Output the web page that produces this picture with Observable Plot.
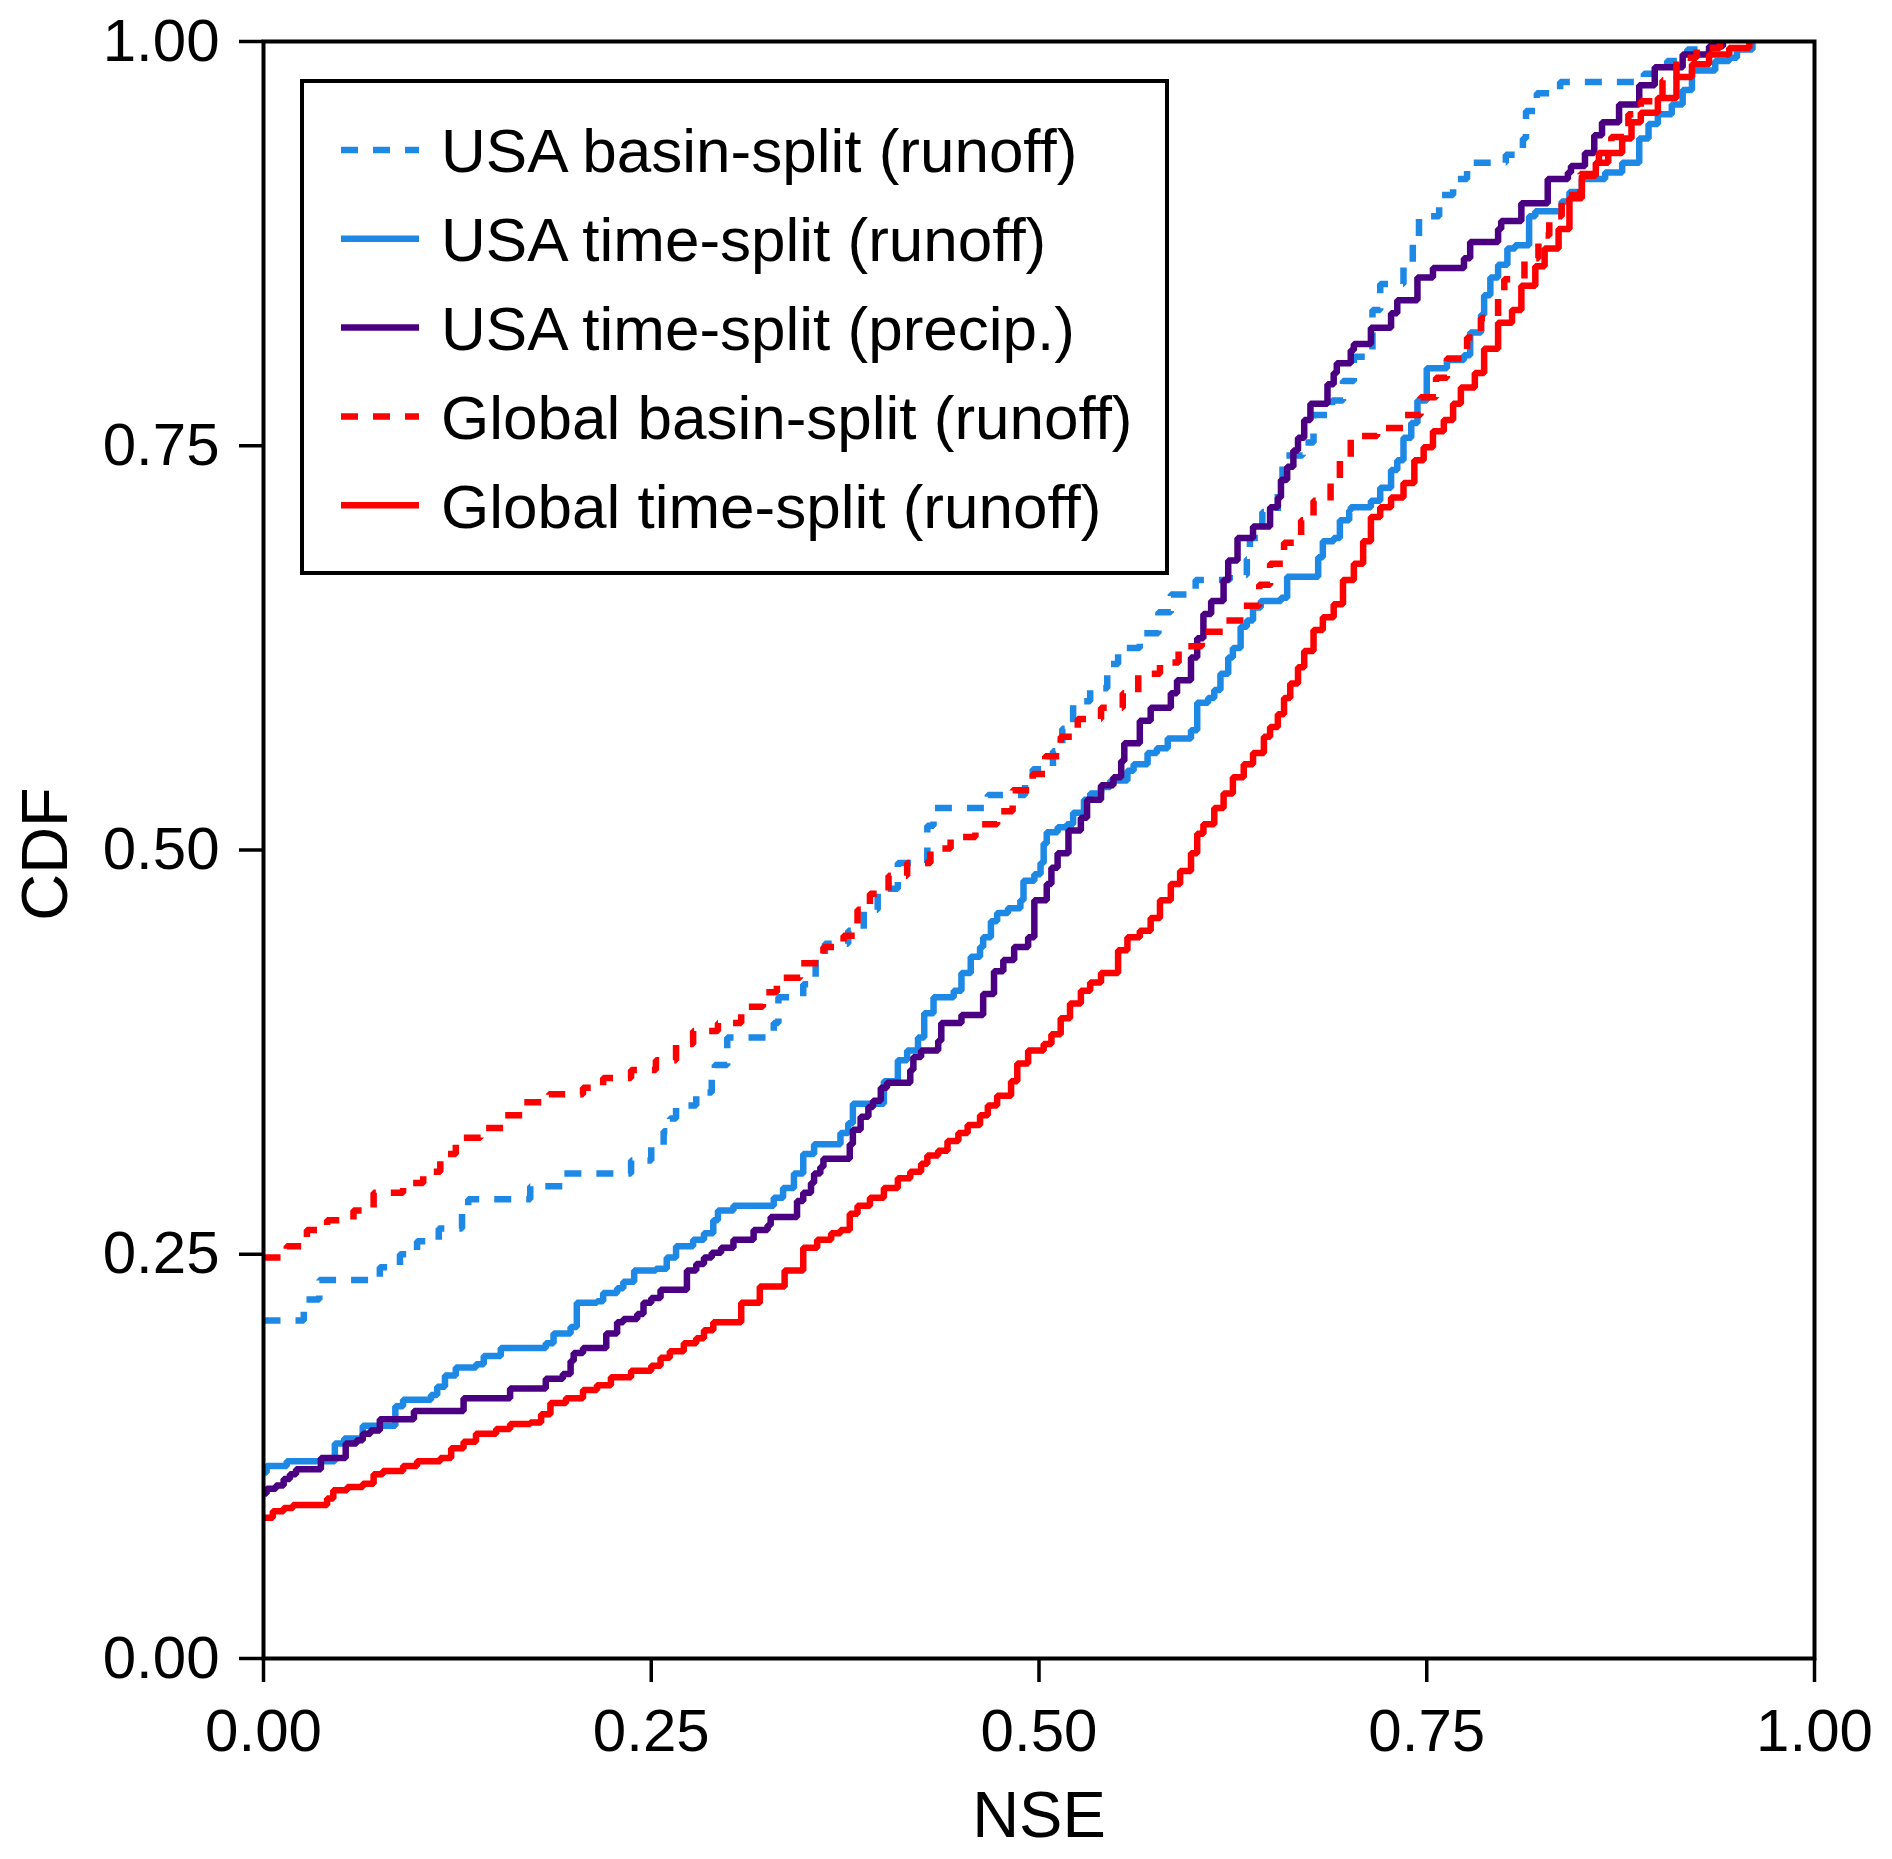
<!DOCTYPE html>
<html>
<head>
<meta charset="utf-8">
<script src="https://cdn.jsdelivr.net/npm/d3@7"></script>
<script src="https://cdn.jsdelivr.net/npm/@observablehq/plot@0.6"></script>
<style>
  html, body { margin: 0; padding: 0; background: #fff; }
  #wrap { position: relative; width: 1892px; height: 1859px; }
  #legend { position: absolute; left: 0; top: 0; pointer-events: none; }
  text { font-family: "Liberation Sans", Arial, Helvetica, sans-serif; }
</style>
</head>
<body>
<div id="wrap"></div>
<script>
// ---- data ----
const seriesNames = [
  "USA basin-split (runoff)",
  "USA time-split (runoff)",
  "USA time-split (precip.)",
  "Global basin-split (runoff)",
  "Global time-split (runoff)"
];
const seriesColors = ["#1E88E5", "#1E88E5", "#4B0082", "#FF0000", "#FF0000"];
const seriesDashed = [true, false, false, true, false];
const xTicks = [0, 0.25, 0.5, 0.75, 1];
const yTicks = [0, 0.25, 0.5, 0.75, 1];

const usaBasinNSE = [0,0.026,0.036,0.075,0.088,0.099,0.113,0.128,0.132,0.172,0.193,0.237,0.250,0.258,0.262,0.266,0.279,0.289,0.291,0.299,0.329,0.332,0.348,0.356,0.362,0.377,0.387,0.396,0.409,0.428,0.432,0.467,0.491,0.496,0.509,0.515,0.522,0.533,0.544,0.551,0.565,0.577,0.585,0.601,0.623,0.634,0.636,0.644,0.654,0.657,0.670,0.677,0.689,0.696,0.703,0.715,0.720,0.735,0.741,0.745,0.758,0.767,0.776,0.801,0.812,0.814,0.821,0.836,0.890,0.905,0.918,0.930];
const usaBasinCDF = [0.209,0.222,0.234,0.242,0.250,0.258,0.266,0.275,0.284,0.292,0.300,0.308,0.317,0.326,0.334,0.342,0.350,0.359,0.367,0.384,0.393,0.409,0.417,0.434,0.442,0.450,0.463,0.476,0.492,0.515,0.526,0.534,0.542,0.550,0.561,0.575,0.592,0.600,0.615,0.625,0.634,0.647,0.658,0.667,0.670,0.680,0.693,0.709,0.725,0.744,0.752,0.769,0.778,0.790,0.805,0.834,0.850,0.863,0.878,0.892,0.905,0.915,0.925,0.930,0.940,0.957,0.968,0.975,0.980,0.988,0.995,1.0];

const usaTimeNSE = [0,0.002,0.015,0.046,0.052,0.064,0.085,0.090,0.108,0.112,0.117,0.124,0.137,0.142,0.153,0.182,0.187,0.198,0.202,0.215,0.219,0.228,0.232,0.239,0.253,0.260,0.266,0.277,0.284,0.290,0.293,0.303,0.329,0.335,0.342,0.348,0.355,0.372,0.377,0.380,0.400,0.409,0.415,0.422,0.426,0.432,0.445,0.450,0.456,0.462,0.464,0.469,0.473,0.480,0.488,0.490,0.497,0.501,0.503,0.505,0.512,0.518,0.522,0.529,0.533,0.540,0.546,0.557,0.561,0.570,0.576,0.583,0.598,0.602,0.609,0.613,0.617,0.622,0.625,0.630,0.634,0.638,0.643,0.656,0.660,0.680,0.683,0.690,0.694,0.700,0.701,0.714,0.720,0.727,0.731,0.735,0.740,0.744,0.750,0.763,0.774,0.778,0.785,0.787,0.791,0.796,0.802,0.807,0.816,0.820,0.837,0.842,0.850,0.865,0.876,0.887,0.893,0.899,0.908,0.915,0.921,0.936,0.945,0.950,0.960];
const usaTimeCDF = [0.115,0.119,0.122,0.133,0.136,0.144,0.156,0.160,0.163,0.168,0.175,0.180,0.182,0.187,0.192,0.195,0.201,0.205,0.220,0.221,0.226,0.229,0.233,0.240,0.241,0.248,0.255,0.259,0.263,0.271,0.277,0.280,0.285,0.291,0.300,0.312,0.318,0.325,0.331,0.343,0.357,0.370,0.376,0.384,0.399,0.409,0.413,0.424,0.434,0.440,0.446,0.456,0.461,0.464,0.469,0.481,0.485,0.492,0.504,0.511,0.514,0.516,0.523,0.531,0.535,0.539,0.543,0.549,0.553,0.560,0.563,0.569,0.574,0.591,0.594,0.599,0.609,0.619,0.625,0.638,0.642,0.650,0.654,0.656,0.669,0.681,0.691,0.693,0.704,0.710,0.712,0.716,0.724,0.735,0.741,0.755,0.764,0.778,0.798,0.803,0.806,0.820,0.831,0.843,0.854,0.862,0.872,0.874,0.892,0.895,0.901,0.907,0.915,0.919,0.925,0.940,0.949,0.955,0.961,0.970,0.982,0.988,0.990,0.995,1.0];

const usaPrecipNSE = [0,0.002,0.008,0.013,0.017,0.021,0.037,0.053,0.060,0.064,0.069,0.075,0.097,0.129,0.159,0.182,0.193,0.198,0.200,0.206,0.221,0.228,0.232,0.241,0.245,0.250,0.256,0.273,0.279,0.284,0.289,0.295,0.303,0.316,0.325,0.327,0.344,0.348,0.353,0.355,0.359,0.361,0.378,0.380,0.385,0.390,0.393,0.398,0.402,0.417,0.419,0.424,0.435,0.437,0.450,0.464,0.471,0.477,0.484,0.493,0.497,0.505,0.508,0.512,0.519,0.527,0.531,0.540,0.548,0.553,0.555,0.565,0.572,0.585,0.589,0.598,0.602,0.606,0.611,0.619,0.622,0.628,0.638,0.649,0.654,0.656,0.660,0.664,0.667,0.671,0.675,0.686,0.690,0.692,0.701,0.703,0.714,0.727,0.731,0.744,0.754,0.774,0.778,0.796,0.798,0.811,0.828,0.841,0.843,0.852,0.858,0.863,0.874,0.887,0.897,0.915,0.932,0.941];
const usaPrecipCDF = [0.102,0.105,0.107,0.111,0.114,0.117,0.124,0.133,0.135,0.139,0.141,0.148,0.153,0.161,0.167,0.173,0.176,0.184,0.189,0.192,0.201,0.208,0.210,0.213,0.220,0.223,0.228,0.240,0.244,0.248,0.251,0.254,0.259,0.265,0.268,0.273,0.283,0.288,0.294,0.300,0.304,0.309,0.318,0.327,0.335,0.341,0.345,0.353,0.356,0.364,0.372,0.376,0.382,0.393,0.398,0.411,0.425,0.432,0.440,0.446,0.469,0.479,0.489,0.498,0.512,0.520,0.531,0.540,0.545,0.555,0.566,0.580,0.588,0.597,0.605,0.619,0.631,0.646,0.654,0.667,0.679,0.693,0.700,0.712,0.718,0.729,0.737,0.747,0.755,0.766,0.776,0.788,0.795,0.801,0.809,0.813,0.823,0.832,0.840,0.854,0.860,0.866,0.876,0.884,0.889,0.900,0.915,0.919,0.923,0.931,0.942,0.950,0.961,0.973,0.984,0.992,0.997,1.0];

const globalBasinNSE = [0,0.015,0.028,0.041,0.058,0.071,0.090,0.103,0.114,0.124,0.140,0.155,0.168,0.184,0.206,0.219,0.237,0.253,0.266,0.277,0.293,0.308,0.322,0.331,0.346,0.361,0.374,0.383,0.391,0.403,0.415,0.430,0.443,0.459,0.473,0.483,0.496,0.504,0.514,0.525,0.540,0.554,0.564,0.578,0.590,0.605,0.619,0.632,0.642,0.649,0.658,0.669,0.677,0.688,0.694,0.701,0.718,0.735,0.746,0.756,0.763,0.776,0.785,0.796,0.800,0.813,0.822,0.829,0.837,0.849,0.861,0.869,0.880,0.888,0.902,0.911,0.924,0.939];
const globalBasinCDF = [0.248,0.255,0.265,0.271,0.277,0.288,0.294,0.301,0.312,0.322,0.328,0.336,0.344,0.349,0.353,0.359,0.364,0.370,0.380,0.388,0.393,0.403,0.412,0.421,0.430,0.440,0.447,0.463,0.473,0.484,0.492,0.501,0.508,0.516,0.524,0.537,0.547,0.558,0.570,0.581,0.588,0.597,0.609,0.616,0.626,0.635,0.642,0.651,0.664,0.677,0.690,0.704,0.716,0.729,0.743,0.756,0.761,0.769,0.780,0.792,0.804,0.817,0.829,0.841,0.853,0.866,0.880,0.892,0.905,0.918,0.931,0.941,0.955,0.963,0.976,0.990,0.996,1.0];

const globalTimeNSE = [0,0.006,0.013,0.019,0.041,0.045,0.054,0.064,0.071,0.077,0.090,0.099,0.114,0.121,0.129,0.137,0.150,0.159,0.172,0.179,0.185,0.195,0.206,0.215,0.224,0.237,0.250,0.256,0.262,0.271,0.279,0.284,0.290,0.308,0.320,0.336,0.348,0.357,0.366,0.372,0.378,0.383,0.391,0.400,0.409,0.417,0.424,0.428,0.435,0.441,0.448,0.454,0.462,0.467,0.473,0.482,0.486,0.493,0.503,0.508,0.514,0.520,0.527,0.533,0.540,0.551,0.557,0.565,0.572,0.578,0.585,0.591,0.598,0.602,0.606,0.613,0.619,0.625,0.632,0.638,0.645,0.649,0.654,0.658,0.662,0.667,0.671,0.677,0.683,0.690,0.696,0.703,0.709,0.714,0.720,0.727,0.735,0.742,0.748,0.754,0.761,0.767,0.772,0.781,0.787,0.796,0.805,0.811,0.820,0.826,0.835,0.842,0.850,0.859,0.867,0.876,0.882,0.888,0.899,0.911,0.921,0.932,0.945,0.958];
const globalTimeCDF = [0.087,0.091,0.093,0.095,0.099,0.104,0.106,0.108,0.114,0.116,0.119,0.122,0.124,0.130,0.134,0.139,0.142,0.145,0.146,0.151,0.158,0.161,0.166,0.169,0.174,0.178,0.181,0.186,0.190,0.195,0.198,0.203,0.208,0.220,0.230,0.240,0.254,0.259,0.263,0.265,0.275,0.280,0.285,0.291,0.297,0.301,0.306,0.311,0.314,0.320,0.325,0.330,0.336,0.342,0.348,0.357,0.368,0.376,0.380,0.386,0.396,0.405,0.413,0.418,0.424,0.438,0.446,0.450,0.458,0.469,0.479,0.487,0.498,0.510,0.516,0.526,0.535,0.545,0.553,0.560,0.570,0.576,0.584,0.594,0.603,0.613,0.623,0.636,0.644,0.652,0.667,0.677,0.691,0.706,0.712,0.718,0.727,0.741,0.749,0.759,0.766,0.776,0.786,0.795,0.810,0.826,0.834,0.849,0.861,0.872,0.884,0.903,0.917,0.925,0.931,0.940,0.950,0.956,0.965,0.978,0.986,0.992,0.996,1.0];

const seriesNSE = [usaBasinNSE, usaTimeNSE, usaPrecipNSE, globalBasinNSE, globalTimeNSE];
const seriesCDF = [usaBasinCDF, usaTimeCDF, usaPrecipCDF, globalBasinCDF, globalTimeCDF];

// ---- build table ----
const rows = seriesNames.flatMap((name, s) =>
  seriesNSE[s].map((x, i) => ({series: name, nse: x, cdf: seriesCDF[s][i]})));

const FONT = "'Liberation Sans', Arial, Helvetica, sans-serif";
const DASH = "17,15";
const LW = 6.5;

const lineMarks = seriesNames.map((name, s) => {
  const opts = {
    x: "nse", y: "cdf", curve: "step-after",
    stroke: seriesColors[s], strokeWidth: LW,
    strokeLinecap: "butt", strokeLinejoin: "miter"
  };
  if (seriesDashed[s]) opts.strokeDasharray = DASH;
  return Plot.line(rows.filter(d => d.series === name), opts);
});

const W = 1892, H = 1859;
const chart = Plot.plot({
  width: W, height: H,
  marginLeft: 263, marginRight: 78, marginTop: 41, marginBottom: 201,
  style: {fontFamily: FONT, background: "#fff", overflow: "visible"},
  x: {domain: [0, 1]},
  y: {domain: [0, 1]},
  marks: [
    ...lineMarks,
    Plot.frame({stroke: "#000", strokeWidth: 4}),
    Plot.axisX({ticks: xTicks, tickFormat: d3.format(".2f"), tickSize: 24, tickPadding: 26,
      fontSize: 60, strokeWidth: 3.5, stroke: "#000", fill: "#000", label: null}),
    Plot.axisY({ticks: yTicks, tickFormat: d3.format(".2f"), tickSize: 24, tickPadding: 20,
      fontSize: 60, strokeWidth: 3.5, stroke: "#000", fill: "#000", label: null}),
    Plot.text(["NSE"], {text: d => d, frameAnchor: "bottom", dy: 158, fontSize: 65, fill: "#000",
      lineAnchor: "middle", textAnchor: "middle"}),
    Plot.text(["CDF"], {text: d => d, frameAnchor: "left", dx: -217, dy: 4, rotate: -90, fontSize: 65,
      fill: "#000", lineAnchor: "middle", textAnchor: "middle"})
  ]
});

const wrap = document.getElementById("wrap");
wrap.appendChild(chart);

// ---- legend overlay ----
const leg = d3.select(wrap).append("svg")
  .attr("id", "legend").attr("width", W).attr("height", H);
leg.append("rect").attr("x", 302).attr("y", 81).attr("width", 865).attr("height", 492)
  .attr("fill", "#fff").attr("stroke", "#000").attr("stroke-width", 4);
seriesNames.forEach((name, s) => {
  const cy = 150 + s * 88.8;
  const ln = leg.append("line").attr("x1", 341).attr("x2", 419).attr("y1", cy).attr("y2", cy)
    .attr("stroke", seriesColors[s]).attr("stroke-width", LW);
  if (seriesDashed[s]) ln.attr("stroke-dasharray", DASH);
  leg.append("text").attr("x", 441).attr("y", cy).attr("dy", "0.36em")
    .attr("font-size", 62).attr("font-family", FONT).attr("fill", "#000").text(name);
});
</script>
</body>
</html>
